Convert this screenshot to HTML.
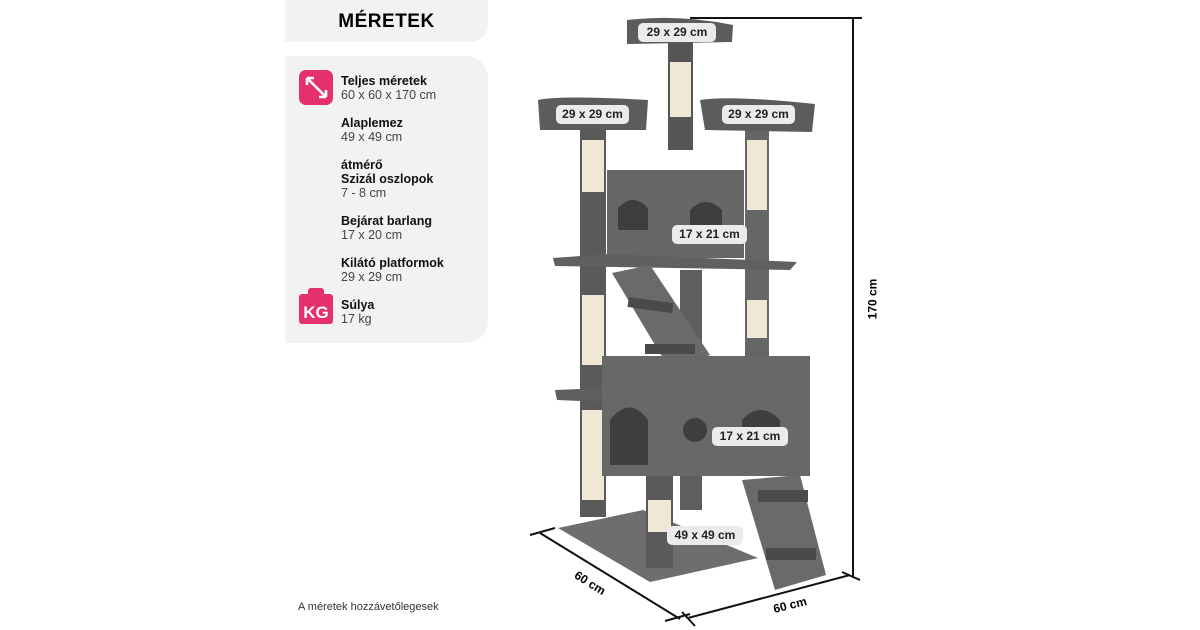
<!DOCTYPE html>
<html><head><meta charset="utf-8"><style>
body{margin:0;width:1200px;height:630px;background:#fff;position:relative;overflow:hidden;font-family:"Liberation Sans",sans-serif;}
.box{position:absolute;left:285px;width:203px;background:#f2f2f2;border-radius:0 22px 22px 0;}
.t{position:absolute;left:341px;font-size:12.5px;line-height:14px;color:#111;}
.t b{font-weight:bold;}
.t span{color:#444;}
</style></head><body>
<div class="box" style="top:0;height:42px;border-radius:0 0 18px 0;"></div>
<div style="position:absolute;left:285px;width:203px;top:11px;text-align:center;font-weight:bold;font-size:19px;letter-spacing:0.5px;">MÉRETEK</div>
<div class="box" style="top:56px;height:287px;"></div>
<svg style="position:absolute;left:299px;top:70px" width="34" height="35"><rect width="34" height="35" rx="7" fill="#e5306f"/><path d="M8 8 L27 27 M8 8 l0 7 M8 8 l7 0 M27 27 l-7 0 M27 27 l0 -7" stroke="#fff" stroke-width="2.6" fill="none"/></svg>
<svg style="position:absolute;left:299px;top:288px" width="34" height="36"><rect x="9" y="0" width="16" height="8" rx="3" fill="#e5306f"/><rect x="0" y="6" width="34" height="30" rx="3" fill="#e5306f"/><text x="17" y="30" text-anchor="middle" font-family="Liberation Sans" font-weight="bold" font-size="17" fill="#fff">KG</text></svg>
<div class="t" style="top:74px"><b>Teljes méretek</b><br><span>60 x 60 x 170 cm</span></div>
<div class="t" style="top:116px"><b>Alaplemez</b><br><span>49 x 49 cm</span></div>
<div class="t" style="top:158px"><b>átmérő<br>Szizál oszlopok</b><br><span>7 - 8 cm</span></div>
<div class="t" style="top:214px"><b>Bejárat barlang</b><br><span>17 x 20 cm</span></div>
<div class="t" style="top:256px"><b>Kilátó platformok</b><br><span>29 x 29 cm</span></div>
<div class="t" style="top:298px"><b>Súlya</b><br><span>17 kg</span></div>
<div style="position:absolute;left:298px;top:601px;font-size:11px;color:#333;">A méretek hozzávetőlegesek</div>

<svg style="position:absolute;left:0;top:0" width="1200" height="630">
<g fill="#666">
<!-- base -->
<polygon points="558,528 643,510 758,558 650,582" fill="#6e6e6e"/>
<!-- posts -->
<rect x="580" y="112" width="26" height="405" fill="#5a5a5a"/>
<rect x="745" y="112" width="24" height="250"/>
<rect x="668" y="40" width="25" height="110" fill="#555"/>
<rect x="680" y="270" width="22" height="240" fill="#5e5e5e"/>
<rect x="646" y="430" width="27" height="138" fill="#5a5a5a"/>
</g>
<g fill="#efe8d6">
<rect x="670" y="62" width="21" height="55"/>
<rect x="582" y="140" width="22" height="52"/>
<rect x="747" y="140" width="20" height="70"/>
<rect x="582" y="295" width="22" height="70"/>
<rect x="747" y="300" width="20" height="38"/>
<rect x="582" y="410" width="22" height="90"/>
<rect x="648" y="500" width="23" height="32"/>
</g>
<!-- top platforms -->
<path d="M627 20 Q680 14 733 25 L732 42 L627 44 Z" fill="#5c5c5c"/>
<path d="M538 100 Q560 95 648 100 L646 130 L540 130 Z" fill="#5c5c5c"/>
<path d="M700 100 Q730 95 815 104 L812 132 L705 130 Z" fill="#5c5c5c"/>
<!-- upper cabin -->
<rect x="607" y="170" width="137" height="88" fill="#676767"/>
<path d="M618 230 V208 Q633 192 648 208 V230 Z" fill="#3e3e3e"/>
<path d="M690 230 V210 Q706 194 722 210 V230 Z" fill="#3e3e3e"/>
<polygon points="553,258 608,254 797,262 790,270 555,266" fill="#606060"/>
<!-- ramp upper -->
<polygon points="612,273 650,265 710,355 670,370" fill="#6a6a6a"/>
<rect x="628" y="300" width="45" height="10" fill="#4a4a4a" transform="rotate(8 650 305)"/>
<rect x="645" y="344" width="50" height="10" fill="#4a4a4a"/>
<!-- lower cabin -->
<polygon points="555,390 605,388 605,402 557,400" fill="#5e5e5e"/>
<rect x="602" y="356" width="208" height="120" fill="#686868"/>
<path d="M610 465 V420 Q630 395 648 420 V465 Z" fill="#3e3e3e"/>
<circle cx="695" cy="430" r="12" fill="#3e3e3e"/>
<path d="M742 440 V420 Q760 400 780 420 V440 Z" fill="#3e3e3e"/>
<!-- lower ramp -->
<polygon points="742,480 800,475 826,575 775,590" fill="#6a6a6a"/>
<rect x="758" y="490" width="50" height="12" fill="#4a4a4a"/>
<rect x="766" y="548" width="50" height="12" fill="#4a4a4a"/>
<!-- dims -->
<g stroke="#111" stroke-width="2" fill="none">
<line x1="690" y1="18" x2="862" y2="18"/>
<line x1="853" y1="18" x2="853" y2="578"/>
<line x1="842" y1="572" x2="860" y2="580"/>
<line x1="540" y1="533" x2="680" y2="619"/>
<line x1="530" y1="535" x2="555" y2="528"/>
<line x1="665" y1="621" x2="690" y2="614"/>
<line x1="688" y1="618" x2="850" y2="575"/>
<line x1="682" y1="612" x2="695" y2="626"/>
</g>
</svg>
<div style="position:absolute;left:852px;top:292px;transform:rotate(-90deg);font-weight:bold;font-size:12px;">170 cm</div>
<div style="position:absolute;left:573px;top:576px;transform:rotate(32deg);font-weight:bold;font-size:12px;">60 cm</div>
<div style="position:absolute;left:773px;top:598px;transform:rotate(-14deg);font-weight:bold;font-size:12px;">60 cm</div>
<style>.p{position:absolute;background:#ebebeb;border-radius:5px;font-weight:bold;font-size:12px;line-height:19px;text-align:center;color:#222;}</style>
<div class="p" style="left:638px;top:23px;width:78px;">29 x 29 cm</div>
<div class="p" style="left:556px;top:105px;width:73px;">29 x 29 cm</div>
<div class="p" style="left:722px;top:105px;width:73px;">29 x 29 cm</div>
<div class="p" style="left:672px;top:225px;width:75px;">17 x 21 cm</div>
<div class="p" style="left:712px;top:427px;width:76px;">17 x 21 cm</div>
<div class="p" style="left:667px;top:526px;width:76px;">49 x 49 cm</div>
</body></html>
